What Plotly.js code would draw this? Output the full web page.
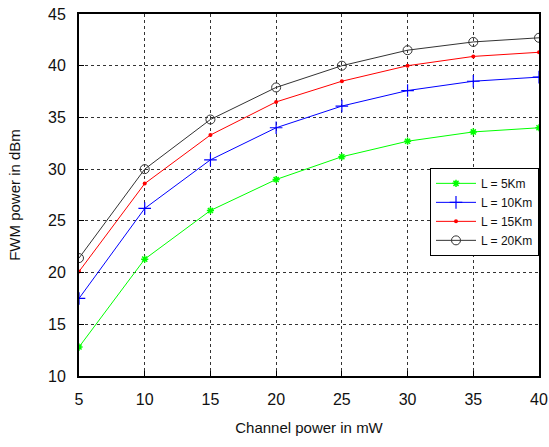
<!DOCTYPE html>
<html><head><meta charset="utf-8">
<script src="https://cdn.plot.ly/plotly-3.0.1.min.js"></script>
<style>html,body{margin:0;padding:0;background:#fff}</style>
</head><body><div id="chart" style="width:549px;height:447px"></div>
<script>
var channelPower = [5, 10, 15, 20, 25, 30, 35, 40];
var fwm5km  = [12.8, 21.3, 26.0, 29.0, 31.2, 32.7, 33.6, 34.0];
var fwm10km = [17.5, 26.2, 30.9, 34.0, 36.1, 37.6, 38.5, 38.9];
var fwm15km = [20.1, 28.6, 33.3, 36.5, 38.5, 40.0, 40.9, 41.3];
var fwm20km = [21.4, 30.0, 34.8, 37.9, 40.0, 41.5, 42.3, 42.7];
var seriesNames = ['L = 5Km', 'L = 10Km', 'L = 15Km', 'L = 20Km'];

var traces = [
  {x: channelPower, y: fwm5km, name: seriesNames[0], mode: 'lines+markers',
   line: {color: '#00ff00', width: 1}, marker: {symbol: 'asterisk-open', size: 6, color: '#00ff00', line: {color: '#00ff00', width: 1.5}}},
  {x: channelPower, y: fwm10km, name: seriesNames[1], mode: 'lines+markers',
   line: {color: '#0000ff', width: 1}, marker: {symbol: 'cross-thin-open', size: 9, color: '#0000ff', line: {color: '#0000ff', width: 1.2}}},
  {x: channelPower, y: fwm15km, name: seriesNames[2], mode: 'lines+markers',
   line: {color: '#ff0000', width: 1}, marker: {symbol: 'circle', size: 4, color: '#ff0000'}},
  {x: channelPower, y: fwm20km, name: seriesNames[3], mode: 'lines+markers',
   line: {color: '#333333', width: 1}, marker: {symbol: 'circle-open', size: 9, color: '#333333', line: {color: '#333333', width: 1}}}
];

var fam = 'Liberation Sans, Arial, sans-serif';
var axisFont = {family: fam, size: 16, color: '#111'};
var layout = {
  width: 549, height: 447,
  margin: {l: 79, r: 10, t: 14, b: 71},
  paper_bgcolor: '#fff', plot_bgcolor: '#fff',
  showlegend: true,
  legend: {x: 1, y: 0.575, xanchor: 'right', yanchor: 'top',
    bgcolor: '#fff', bordercolor: '#000', borderwidth: 1,
    font: {family: fam, size: 12, color: '#111'},
    tracegroupgap: 0, itemwidth: 40},
  xaxis: {range: [5, 40], tickvals: channelPower, ticks: 'inside', ticklen: 5, tickcolor: '#000',
    showline: true, linecolor: '#000', linewidth: 2, mirror: true,
    showgrid: true, gridcolor: '#333', griddash: 'dot', gridwidth: 1, zeroline: false,
    tickfont: axisFont, ticklabelstandoff: 8,
    title: {text: 'Channel power in mW', font: {family: fam, size: 15, color: '#111'}, standoff: 15}},
  yaxis: {range: [10, 45], tickvals: [10, 15, 20, 25, 30, 35, 40, 45], ticks: 'inside', ticklen: 5, tickcolor: '#000',
    showline: true, linecolor: '#000', linewidth: 2, mirror: true,
    showgrid: true, gridcolor: '#333', griddash: 'dot', gridwidth: 1, zeroline: false,
    tickfont: axisFont, ticklabelstandoff: 8,
    title: {text: 'FWM power in dBm', font: {family: fam, size: 15, color: '#111'}, standoff: 24}}
};
Plotly.newPlot('chart', traces, layout, {displayModeBar: false, staticPlot: true});
</script></body></html>
